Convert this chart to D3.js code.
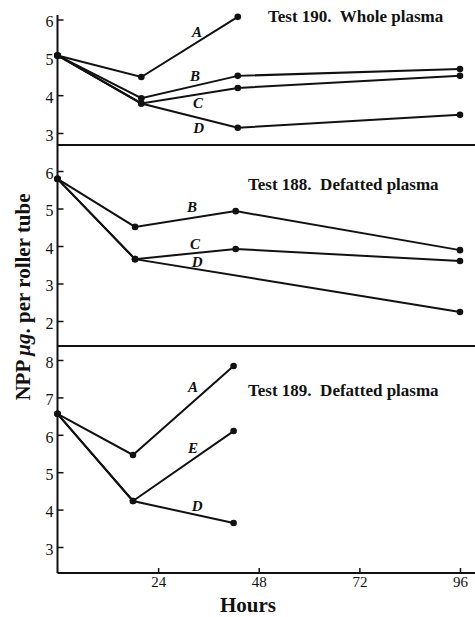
<!DOCTYPE html>
<html>
<head>
<meta charset="utf-8">
<script src="https://cdn.jsdelivr.net/npm/d3@7"></script>
<style>
  body { margin: 0; background: #fff; }
  text { font-family: "Liberation Serif", "DejaVu Serif", serif; fill: #111; }
</style>
</head>
<body>
<div id="chart"></div>
<script>
// chart values
var xTicks = [24, 48, 72, 96];

// Test 190. Whole plasma
var hours190 = [0, 20, 43, 96];
var t190A = [5.05, 4.48, 6.07, null];
var t190B = [5.05, 3.92, 4.51, 4.69];
var t190C = [5.05, 3.78, 4.19, 4.51];
var t190D = [5.05, 3.78, 3.14, 3.48];
var ticks190 = [3, 4, 5, 6];

// Test 188. Defatted plasma
var hours188 = [0, 18.5, 42.5, 96];
var t188B = [5.79, 4.51, 4.93, 3.89];
var t188C = [5.79, 3.65, 3.92, 3.6];
var t188D = [5.79, 3.65, null, 2.24];
var ticks188 = [2, 3, 4, 5, 6];

// Test 189. Defatted plasma
var hours189 = [0, 18, 42];
var t189A = [6.56, 5.46, 7.84];
var t189E = [6.56, 4.23, 6.1];
var t189D = [6.56, 4.23, 3.64];
var ticks189 = [3, 4, 5, 6, 7, 8];

// curve letters: [name, hour, value]
var labels190 = [["A", 33.3, 5.67], ["B", 32.8, 4.51], ["C", 33.5, 3.79], ["D", 33.7, 3.13]];
var labels188 = [["B", 32.1, 5.04], ["C", 32.8, 4.05], ["D", 33.3, 3.57]];
var labels189 = [["A", 32.3, 7.28], ["E", 32.3, 5.65], ["D", 33.3, 4.1]];

var svgWidth = 475;
var svgHeight = 617;

var svg = d3.select("#chart")
  .append("svg")
  .attr("width", svgWidth)
  .attr("height", svgHeight);

var xScale = d3.scaleLinear()
  .domain([0, 96])
  .range([57.5, 460]);

// panel layout: pixel band plus the two reference ticks used for the y scale
var panels = [
  { title: "Test 190.  Whole plasma", titleX: 268, titleY: 22, top: 15, bottom: 145,
    domain: [3, 6], range: [133, 19.5], ticks: ticks190, hours: hours190,
    series: [t190A, t190B, t190C, t190D], labels: labels190 },
  { title: "Test 188.  Defatted plasma", titleX: 248, titleY: 190, top: 145, bottom: 346,
    domain: [2, 6], range: [321, 171], ticks: ticks188, hours: hours188,
    series: [t188B, t188C, t188D], labels: labels188 },
  { title: "Test 189.  Defatted plasma", titleX: 248, titleY: 396, top: 346, bottom: 573,
    domain: [3, 8], range: [547, 360], ticks: ticks189, hours: hours189,
    series: [t189A, t189E, t189D], labels: labels189 }
];

panels.forEach(function(p) {
  var yScale = d3.scaleLinear().domain(p.domain).range(p.range);
  var g = svg.append("g");

  // y ticks, pointing inward
  var leftAxis = d3.axisLeft(yScale)
    .tickValues(p.ticks)
    .tickFormat(d3.format("d"))
    .tickSizeInner(-6)
    .tickSizeOuter(0)
    .tickPadding(4);

  var yAxis = g.append("g")
    .attr("transform", "translate(57.5,0)")
    .call(leftAxis);
  yAxis.select(".domain").remove();
  yAxis.selectAll(".tick line").attr("stroke", "#111").attr("stroke-width", 1.5);
  yAxis.selectAll(".tick text")
    .attr("font-size", 16)
    .attr("font-family", "Liberation Serif, serif")
    .attr("fill", "#111")
    .attr("dy", "0.45em");

  // bottom border of the panel
  g.append("line")
    .attr("x1", 57.5).attr("x2", svgWidth)
    .attr("y1", p.bottom).attr("y2", p.bottom)
    .attr("stroke", "#111")
    .attr("stroke-width", 2);

  var line = d3.line()
    .defined(function(d) { return d[1] !== null; })
    .x(function(d) { return xScale(d[0]); })
    .y(function(d) { return yScale(d[1]); });

  p.series.forEach(function(vals) {
    var pts = vals.map(function(v, i) { return [p.hours[i], v]; })
      .filter(function(d) { return d[1] !== null; });

    g.append("path")
      .datum(pts)
      .attr("d", line)
      .attr("fill", "none")
      .attr("stroke", "#111")
      .attr("stroke-width", 2);

    g.selectAll(null)
      .data(pts)
      .enter()
      .append("circle")
      .attr("cx", function(d) { return xScale(d[0]); })
      .attr("cy", function(d) { return yScale(d[1]); })
      .attr("r", 3.3)
      .attr("fill", "#111");
  });

  g.selectAll(null)
    .data(p.labels)
    .enter()
    .append("text")
    .attr("x", function(d) { return xScale(d[1]); })
    .attr("y", function(d) { return yScale(d[2]); })
    .attr("text-anchor", "middle")
    .attr("dy", "0.35em")
    .attr("font-size", 15)
    .attr("font-style", "italic")
    .attr("font-weight", "bold")
    .text(function(d) { return d[0]; });

  g.append("text")
    .attr("x", p.titleX)
    .attr("y", p.titleY)
    .attr("font-size", 17)
    .attr("font-weight", "bold")
    .style("white-space", "pre")
    .text(p.title);
});

// left axis line across all three panels
svg.append("line")
  .attr("x1", 57.5).attr("x2", 57.5)
  .attr("y1", 15).attr("y2", 573)
  .attr("stroke", "#111")
  .attr("stroke-width", 2);

// x axis
var bottomAxis = d3.axisBottom(xScale)
  .tickValues(xTicks)
  .tickSizeInner(-5)
  .tickSizeOuter(0)
  .tickPadding(3);

var xAxis = svg.append("g")
  .attr("transform", "translate(0,573)")
  .call(bottomAxis);
xAxis.select(".domain").remove();
xAxis.selectAll(".tick line").attr("stroke", "#111").attr("stroke-width", 1.5);
xAxis.selectAll(".tick text")
  .attr("font-size", 15)
  .attr("font-family", "Liberation Serif, serif")
  .attr("fill", "#111");

svg.append("text")
  .attr("x", 248)
  .attr("y", 612)
  .attr("text-anchor", "middle")
  .attr("font-size", 21)
  .attr("font-weight", "bold")
  .text("Hours");

var yLabel = svg.append("text")
  .attr("transform", "translate(30,297) rotate(-90)")
  .attr("text-anchor", "middle")
  .attr("font-size", 21)
  .attr("font-weight", "bold");
yLabel.append("tspan").text("NPP ");
yLabel.append("tspan").attr("font-style", "italic").text("μg");
yLabel.append("tspan").text(". per roller tube");
</script>
</body>
</html>
